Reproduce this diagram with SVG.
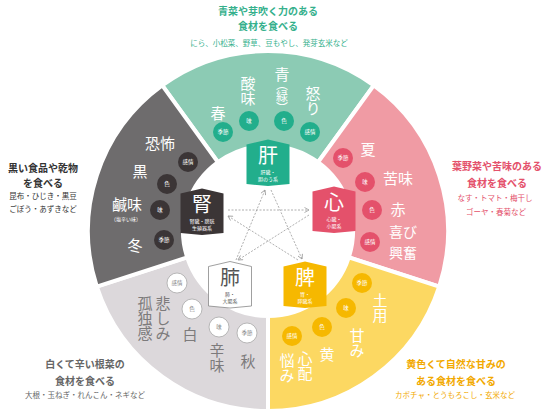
<svg xmlns="http://www.w3.org/2000/svg" width="542" height="412" viewBox="0 0 542 412">
<defs>
<style>
text{font-family:"Noto Sans CJK JP","Noto Sans",sans-serif;text-anchor:middle;dominant-baseline:central}
.seg{stroke:#fff;stroke-width:4;stroke-linejoin:miter}
.big{font-size:15px;fill:#fff}
.gbig{font-size:15px;fill:#7d7b7c}
.v{writing-mode:vertical-rl}
.cl{font-size:5.5px;fill:#fff}
.gcl{font-size:5.5px;fill:#888}
.org{font-size:20px;fill:#fff}
.orgs{font-size:5px;fill:#fff}
.cG{fill:#22ae8c}.cP{fill:#e4516b}.cY{fill:#f6b800}.cD{fill:#3b3536}
.cW{fill:#fff;stroke:#aaa;stroke-width:0.8}
.con{fill:none;stroke:#9a9a9a;stroke-width:0.8;stroke-dasharray:2 1.5;marker-end:url(#ah)}
.h1{font-size:10px;font-weight:700}
.h2{font-size:7.5px}
</style>
<marker id="ah" viewBox="0 0 6 6" refX="5" refY="3" markerWidth="6" markerHeight="6" orient="auto" markerUnits="userSpaceOnUse"><path d="M0.5 0.5 L5 3 L0.5 5.5" fill="none" stroke="#9a9a9a" stroke-width="0.8"/></marker>
</defs>
<rect width="542" height="412" fill="#fff"/>

<g id="segments">
<path class="seg" fill="#8ccbb4" d="M162.2 85.4 A180 180 0 0 1 373.8 85.4 L318 162.2 A85 85 0 0 0 218 162.2 Z"/>
<path class="seg" fill="#f09ba4" d="M373.8 85.4 A180 180 0 0 1 439.2 286.6 L348.8 257.3 A85 85 0 0 0 318 162.2 Z"/>
<path class="seg" fill="#fcd862" d="M439.2 286.6 A180 180 0 0 1 268 411 L268 316 A85 85 0 0 0 348.8 257.3 Z"/>
<path class="seg" fill="#dcd8db" d="M268 411 A180 180 0 0 1 96.8 286.6 L187.2 257.3 A85 85 0 0 0 268 316 Z"/>
<path class="seg" fill="#6e6c6d" d="M96.8 286.6 A180 180 0 0 1 162.2 85.4 L218 162.2 A85 85 0 0 0 187.2 257.3 Z"/>
</g>

<g id="texts-outside">
<g fill="#35b08c"><text class="h1" x="268" y="10">青菜や芽吹く力のある</text><text class="h1" x="268" y="25">食材を食べる</text><text class="h2" x="269" y="42">にら、小松菜、野草、豆もやし、発芽玄米など</text></g>
<g fill="#e4516b"><text class="h1" x="497" y="165">葉野菜や苦味のある</text><text class="h1" x="497" y="182">食材を食べる</text><text class="h2" x="495" y="197">なす・トマト・梅干し</text><text class="h2" x="496" y="211">ゴーヤ・春菊など</text></g>
<g fill="#333"><text class="h1" x="43" y="167">黒い食品や乾物</text><text class="h1" x="43" y="182">を食べる</text><text class="h2" x="43" y="195">昆布・ひじき・黒豆</text><text class="h2" x="43" y="208">ごぼう・あずきなど</text></g>
<g fill="#666"><text class="h1" x="85" y="363">白くて辛い根菜の</text><text class="h1" x="85" y="380">食材を食べる</text><text class="h2" x="85" y="394">大根・玉ねぎ・れんこん・ネギなど</text></g>
<g fill="#f2a900"><text class="h1" x="456" y="363">黄色くて自然な甘みの</text><text class="h1" x="456" y="380">ある食材を食べる</text><text class="h2" x="455" y="394">カボチャ・とうもろこし・玄米など</text></g>
</g>

<g id="liver-labels">
<circle class="cG" cx="223" cy="132" r="10"/><text class="cl" x="223" y="132">季節</text>
<circle class="cG" cx="249" cy="121" r="10"/><text class="cl" x="249" y="121">味</text>
<circle class="cG" cx="284" cy="121" r="10"/><text class="cl" x="284" y="121">色</text>
<circle class="cG" cx="310" cy="132" r="10"/><text class="cl" x="310" y="132">感情</text>
<text class="big" x="218" y="112">春</text>
<text class="big v" x="248" y="91">酸味</text>
<text class="big" x="282" y="73">青</text>
<text class="v" x="282" y="96" style="font-size:12px;fill:#fff">（緑）</text>
<text class="big v" x="313" y="101">怒り</text>
</g>

<g id="heart-labels">
<circle class="cP" cx="343" cy="158" r="10"/><text class="cl" x="343" y="158">季節</text>
<circle class="cP" cx="365" cy="182" r="10"/><text class="cl" x="365" y="182">味</text>
<circle class="cP" cx="372" cy="210" r="10"/><text class="cl" x="372" y="210">色</text>
<circle class="cP" cx="370" cy="242" r="10"/><text class="cl" x="370" y="242">感情</text>
<text class="big" x="368" y="148">夏</text>
<text class="big" x="398" y="177">苦味</text>
<text class="big" x="398" y="208">赤</text>
<text class="big" x="403" y="231" style="font-size:14px">喜び</text>
<text class="big" x="403" y="252" style="font-size:14px">興奮</text>
</g>

<g id="spleen-labels">
<circle class="cY" cx="362" cy="283" r="10"/><text class="cl" x="362" y="283">季節</text>
<circle class="cY" cx="346" cy="308" r="10"/><text class="cl" x="346" y="308">味</text>
<circle class="cY" cx="322" cy="327" r="10"/><text class="cl" x="322" y="327">色</text>
<circle class="cY" cx="292" cy="336" r="10"/><text class="cl" x="292" y="336">感情</text>
<text class="big v" x="380" y="308">土用</text>
<text class="big v" x="357" y="343">甘み</text>
<text class="big" x="327" y="353">黄</text>
<text class="big v" x="305" y="366">心配</text>
<text class="big v" x="287" y="368">悩み</text>
</g>

<g id="lung-labels">
<circle class="cW" cx="177" cy="283" r="10"/><text class="gcl" x="177" y="283">感情</text>
<circle class="cW" cx="192" cy="309" r="10"/><text class="gcl" x="192" y="309">色</text>
<circle class="cW" cx="219" cy="327" r="10"/><text class="gcl" x="219" y="327">味</text>
<circle class="cW" cx="247" cy="333" r="10"/><text class="gcl" x="247" y="333">季節</text>
<text class="gbig" x="248" y="360">秋</text>
<text class="gbig v" x="217" y="358">辛味</text>
<text class="gbig" x="190" y="333">白</text>
<text class="gbig v" x="163" y="318">悲しみ</text>
<text class="gbig v" x="145" y="318">孤独感</text>
</g>

<g id="kidney-labels">
<circle class="cD" cx="188" cy="162" r="10"/><text class="cl" x="188" y="162">感情</text>
<circle class="cD" cx="167" cy="184" r="10"/><text class="cl" x="167" y="184">色</text>
<circle class="cD" cx="160" cy="210" r="10"/><text class="cl" x="160" y="210">味</text>
<circle class="cD" cx="164" cy="240" r="10"/><text class="cl" x="164" y="240">季節</text>
<text class="big" x="160" y="142">恐怖</text>
<text class="big" x="140" y="170">黒</text>
<text class="big" x="127" y="203">鹹味</text>
<text x="126" y="218" style="font-size:5px;fill:#fff">（塩辛い味）</text>
<text class="big" x="135" y="244">冬</text>
</g>

<g id="connectors">
<path class="con" d="M271 190 L302 259"/>
<path class="con" d="M298 260 L228 216"/>
<path class="con" d="M228 210 L309 210"/>
<path class="con" d="M309 215 L238 260"/>
<path class="con" d="M236 260 L265 190"/>
</g>

<g id="liver">
<path class="cG" d="M246.5 144.5 L268 139.5 L289.5 144.5 L289.5 184 L268 186 L246.5 184 Z"/>
<text class="org" x="268" y="154">肝</text>
<text class="orgs" x="268" y="171.5">肝臓・</text>
<text class="orgs" x="268" y="178">胆のう系</text>
</g>
<g id="heart">
<path class="cP" d="M312.5 191.5 L334 186.5 L355.5 191.5 L355.5 231 L334 233 L312.5 231 Z"/>
<text class="org" x="334" y="201">心</text>
<text class="orgs" x="334" y="218.5">心臓・</text>
<text class="orgs" x="334" y="225">小腸系</text>
</g>
<g id="spleen">
<path class="cY" d="M283.5 266.5 L305 261.5 L326.5 266.5 L326.5 306 L305 308 L283.5 306 Z"/>
<text class="org" x="305" y="276">脾</text>
<text class="orgs" x="305" y="293.5">胃・</text>
<text class="orgs" x="305" y="300">膵臓系</text>
</g>
<g id="lung">
<path class="cW" style="stroke:#888" d="M208.5 266.5 L230 261.5 L251.5 266.5 L251.5 306 L230 308 L208.5 306 Z"/>
<text class="org" x="230" y="276" style="fill:#555">肺</text>
<text class="orgs" x="230" y="293.5" style="fill:#555">肺・</text>
<text class="orgs" x="230" y="300" style="fill:#555">大腸系</text>
</g>
<g id="kidney">
<path class="cD" d="M180.5 193.5 L202 188.5 L223.5 193.5 L223.5 233 L202 235 L180.5 233 Z"/>
<text class="org" x="202" y="203">腎</text>
<text class="orgs" x="202" y="220.5">腎臓・膀胱</text>
<text class="orgs" x="202" y="227">生殖器系</text>
</g>
</svg>
